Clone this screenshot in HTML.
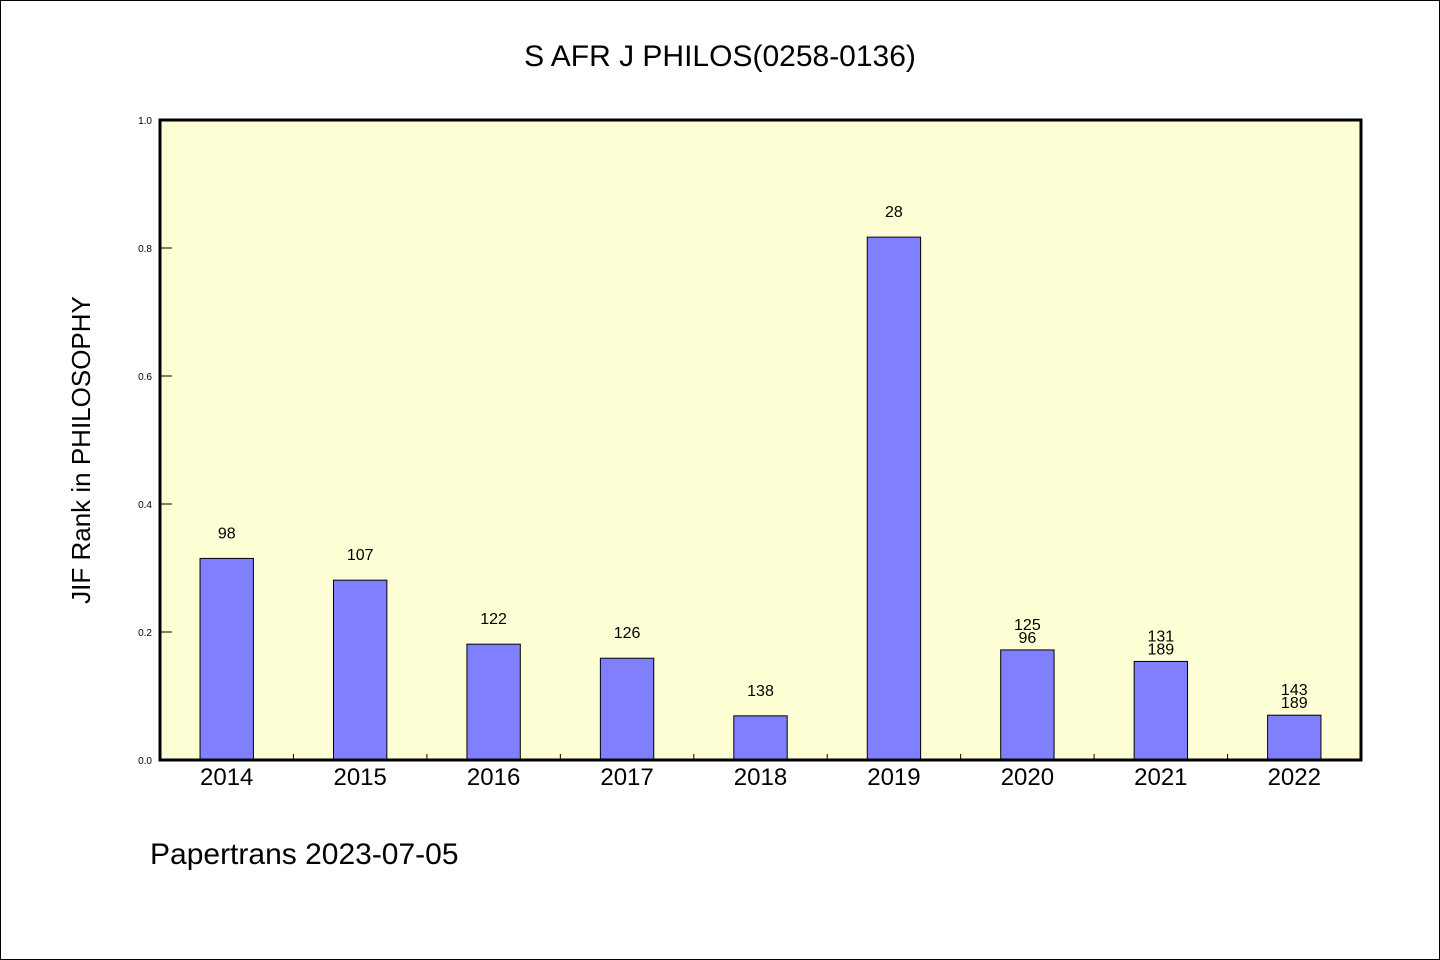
<!DOCTYPE html>
<html><head><meta charset="utf-8"><style>
body{margin:0;background:#fff}
svg{display:block;font-family:"WenQuanYi Zen Hei","Liberation Sans",sans-serif}
</style></head><body>
<svg width="1440" height="960">
<rect x="0.5" y="0.5" width="1439" height="959" fill="#fff" stroke="#000"/>
<text x="720" y="66" font-size="30" text-anchor="middle">S AFR J PHILOS(0258-0136)</text>
<rect x="160" y="120" width="1201" height="640" fill="#ffffd5"/>
<g id="ticks"></g><g id="bars"></g>
<rect x="160" y="120" width="1201" height="640" fill="none" stroke="#000" stroke-width="3"/>
<text transform="translate(90,450) rotate(-90)" font-size="26" text-anchor="middle">JIF Rank in PHILOSOPHY</text>
<text x="150" y="864" font-size="30">Papertrans 2023-07-05</text>
</svg>
<script>
const categories=["2014","2015","2016","2017","2018","2019","2020","2021","2022"];
const values=[0.315,0.281,0.181,0.159,0.069,0.817,0.172,0.154,0.070];
const labelsTop=["98","107","122","126","138","28","125","131","143"];
const labelsBottom=["","","","","","","96","189","189"];
const yTicks=[0,0.2,0.4,0.6,0.8,1.0];
const X0=160,X1=1361,Y0=760,Y1=120;
const step=(X1-X0)/categories.length;
const xs=i=>X0+step*(i+0.5);
const ys=v=>Y0-(Y0-Y1)*v;
const NS="http://www.w3.org/2000/svg";
const tg=document.getElementById('ticks'),bg=document.getElementById('bars');
function mk(tag,attrs,p){const e=document.createElementNS(NS,tag);for(const k in attrs)e.setAttribute(k,attrs[k]);p.appendChild(e);return e;}
yTicks.forEach(t=>{
 const l=mk('line',{x1:X0,x2:X0+12,y1:ys(t),y2:ys(t),stroke:'#000'},tg);
 
 
 const tx=mk('text',{x:X0-8,y:ys(t)+4,'font-size':10,'text-anchor':'end'},tg);
 tx.textContent=t.toFixed(1);
 
 
});
for(let i=1;i<categories.length;i++){
 const l=mk('line',{x1:X0+step*i,x2:X0+step*i,y1:Y0,y2:Y0-6,stroke:'#000'},tg);
 
 
}
const bw=step*0.4;
categories.forEach((c,i)=>{
 const r=mk('rect',{x:xs(i)-bw/2,y:ys(values[i]),width:bw,height:Y0-ys(values[i]),fill:'#8080ff',stroke:'#000','stroke-width':1},bg);
 
 
 const xl=mk('text',{x:xs(i),y:Y0+25,'font-size':24,'text-anchor':'middle'},bg);
 xl.textContent=c;
 
 
 if(labelsBottom[i]){
  const a=mk('text',{x:xs(i),y:ys(values[i])-20,'font-size':16,'text-anchor':'middle'},bg);
  a.textContent=labelsTop[i];
  
  
  const b=mk('text',{x:xs(i),y:ys(values[i])-7,'font-size':16,'text-anchor':'middle'},bg);
  b.textContent=labelsBottom[i];
  
  
 } else {
  const a=mk('text',{x:xs(i),y:ys(values[i])-20,'font-size':16,'text-anchor':'middle'},bg);
  a.textContent=labelsTop[i];
  
  
 }
});
</script>
</body></html>
